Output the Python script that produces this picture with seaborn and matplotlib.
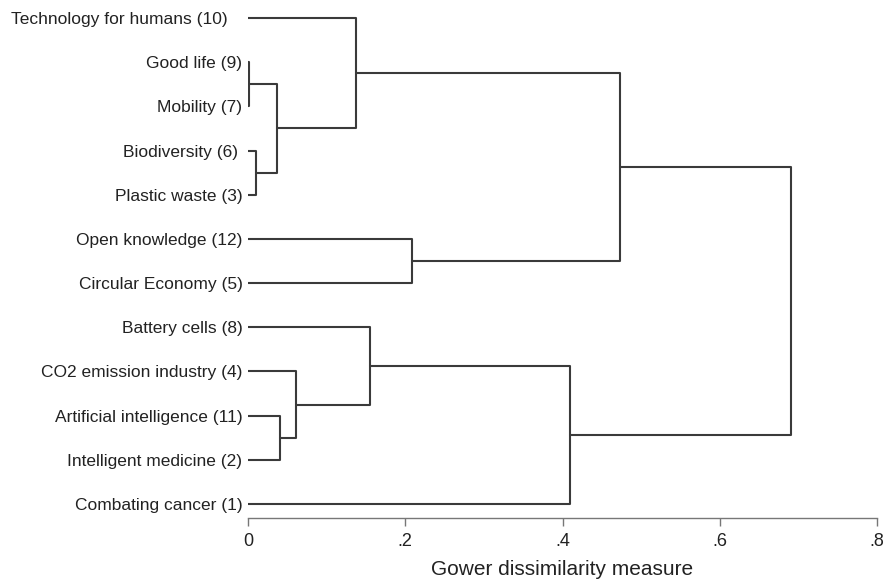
import numpy as np
import pandas as pd
import matplotlib
matplotlib.use("Agg")
import matplotlib.pyplot as plt
import seaborn as sns

# leaves, top to bottom as drawn (labels kept as they appear, incl. trailing blanks)
leaves = ['Technology for humans (10)   ', 'Good life (9)', 'Mobility (7)', 'Biodiversity (6) ',
          'Plastic waste (3)', 'Open knowledge (12)', 'Circular Economy (5)', 'Battery cells (8)',
          'CO2 emission industry (4)', 'Artificial intelligence (11)', 'Intelligent medicine (2)',
          'Combating cancer (1)']

# merges: (left child, right child, dissimilarity); ints refer to earlier merges
merge_left = [1, 3, 0, 0, 5, 3, 9, 8, 7, 8, 5]
merge_right = [2, 4, 1, 2, 6, 4, 10, 6, 7, 11, 9]
merge_left_is_leaf = [True, True, False, True, True, False, True, True, True, False, False]
merge_right_is_leaf = [True, True, False, False, True, False, True, False, False, True, False]
merge_height = [0.001, 0.010, 0.037, 0.137, 0.209, 0.473, 0.041, 0.061, 0.155, 0.409, 0.690]

xticks = [0, 0.2, 0.4, 0.6, 0.8]
xticklabels = ['0', '.2', '.4', '.6', '.8']
xlabel = 'Gower dissimilarity measure'

##############################################
# dendrogram layout: leaf i sits at y = i + 1, each merge at the mean of its children
node_x, node_y = [], []
rows = []


def pos(idx, is_leaf):
    if is_leaf:
        return 0.0, idx + 1
    return node_x[idx], node_y[idx]


for k in range(len(merge_height)):
    h = merge_height[k]
    xa, ya = pos(merge_left[k], merge_left_is_leaf[k])
    xb, yb = pos(merge_right[k], merge_right_is_leaf[k])
    for px, py in [(xa, ya), (h, ya), (h, yb), (xb, yb)]:
        rows.append({'link': k, 'x': px, 'y': py})
    node_x.append(h)
    node_y.append((ya + yb) / 2)

df = pd.DataFrame(rows)

sns.set_style("white")
plt.rcParams['font.family'] = ['Liberation Sans', 'DejaVu Sans']

fig = plt.figure(figsize=(8.89, 5.8), dpi=100)
ax = fig.add_axes([248 / 889, 62 / 580, 629 / 889, 518 / 580])

sns.lineplot(data=df, x='x', y='y', units='link', estimator=None, sort=False,
             color='#3a3a3a', linewidth=1.5, ax=ax)

ax.set_xlim(0, 0.8)
ax.set_ylim(12 + 14 / 44.2, 1 - 18 / 44.2)
ax.set_yticks(range(1, len(leaves) + 1))
ax.set_yticklabels(leaves, fontsize=12.5, color='#222222')
ax.tick_params(axis='y', length=0, pad=4)
ax.set_xticks(xticks)
ax.set_xticklabels(xticklabels, fontsize=13, color='#222222')
ax.tick_params(axis='x', direction='out', length=5.5, width=1, color='#777777', pad=5.5, bottom=True)
ax.set_xlabel(xlabel, fontsize=15, color='#222222', labelpad=7)
ax.set_ylabel('')

for s in ['top', 'right', 'left']:
    ax.spines[s].set_visible(False)
ax.spines['bottom'].set_color('#777777')
ax.spines['bottom'].set_linewidth(1)

plt.savefig('out.png', dpi=100)
